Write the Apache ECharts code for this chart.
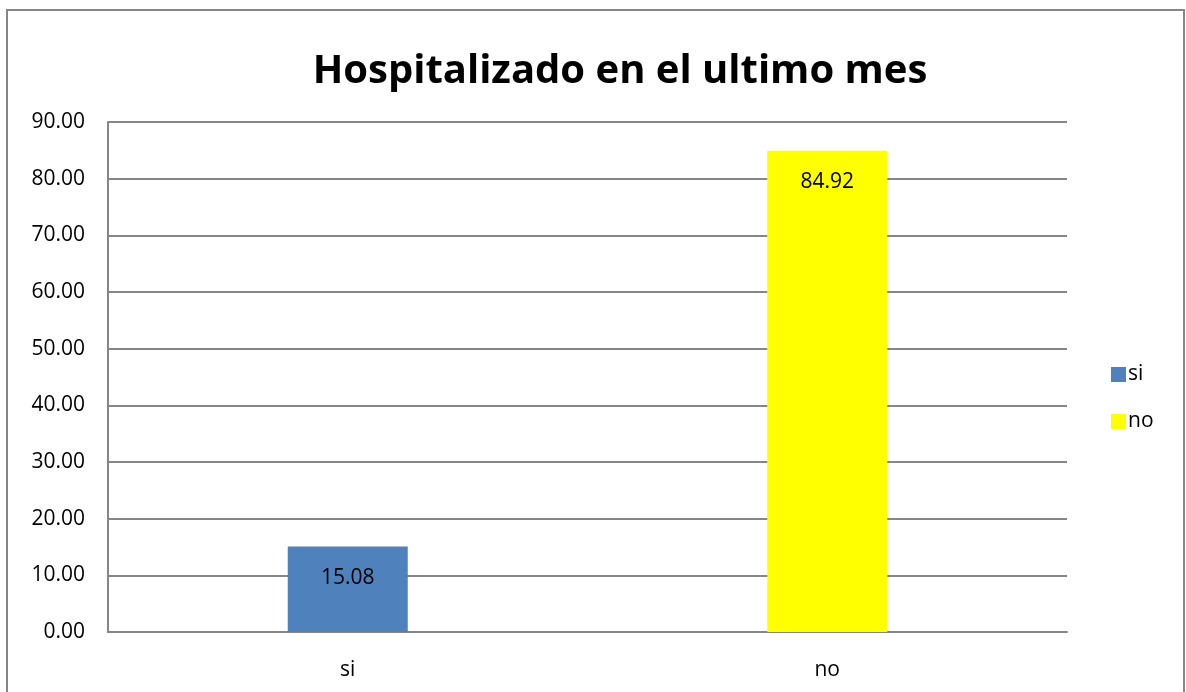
<!DOCTYPE html>
<html>
<head>
<meta charset="utf-8">
<script src="https://cdn.jsdelivr.net/npm/echarts@6/dist/echarts.min.js"></script>
<style>
html,body{margin:0;padding:0;background:#fff;}
#c{width:1186px;height:692px;}
</style>
</head>
<body>
<div id="c"></div>
<script>
const titleText = "Hospitalizado en el ultimo mes";
const categories = ["si", "no"];
const seriesNames = ["si", "no"];
const siValues = [15.08, "-"];
const noValues = ["-", 84.92];
const yMin = 0, yMax = 90, yInterval = 10;

const chart = echarts.init(document.getElementById('c'));
const font = "'Open Sans', 'Liberation Sans', sans-serif";
const labelCfg = {
  show: true, position: 'insideTop', distance: 21, color: '#000',
  fontFamily: font, fontSize: 21,
  formatter: p => Number(p.value).toFixed(2)
};
chart.setOption({
  backgroundColor: '#fff',
  animation: false,
  title: {
    text: titleText, left: 615, textAlign: 'center', top: 47,
    textStyle: { fontFamily: font, fontWeight: 'bold', fontSize: 40, color: '#000' }
  },
  legend: {
    orient: 'vertical', left: 1106, top: 359, itemGap: 26,
    itemWidth: 15, itemHeight: 15, icon: 'rect',
    data: seriesNames,
    textStyle: { fontFamily: font, fontSize: 21, color: '#000', padding: [0, 0, 0, -3] }
  },
  grid: { left: 108, top: 122, right: 119, bottom: 60, containLabel: false },
  xAxis: {
    type: 'category', data: categories,
    axisLine: { lineStyle: { color: '#868686', width: 2 } },
    axisTick: { show: false },
    axisLabel: { fontFamily: font, fontSize: 21, color: '#000', margin: 28 }
  },
  yAxis: {
    type: 'value', min: yMin, max: yMax, interval: yInterval,
    axisLine: { show: true, lineStyle: { color: '#868686', width: 2 } },
    axisTick: { show: false },
    splitLine: { lineStyle: { color: '#868686', width: 2 } },
    axisLabel: { fontFamily: font, fontSize: 21, color: '#000', margin: 23,
      formatter: v => v.toFixed(2) }
  },
  series: [
    { name: seriesNames[0], type: 'bar', stack: 'a', barWidth: 120, data: siValues,
      itemStyle: { color: '#4F81BD' }, label: labelCfg },
    { name: seriesNames[1], type: 'bar', stack: 'a', barWidth: 120, data: noValues,
      itemStyle: { color: '#FFFF00' }, label: labelCfg }
  ],
  graphic: [{
    type: 'rect', shape: { x: 7, y: 10, width: 1177, height: 700 },
    style: { fill: 'none', stroke: '#868686', lineWidth: 2 }, silent: true
  }]
});
</script>
</body>
</html>
